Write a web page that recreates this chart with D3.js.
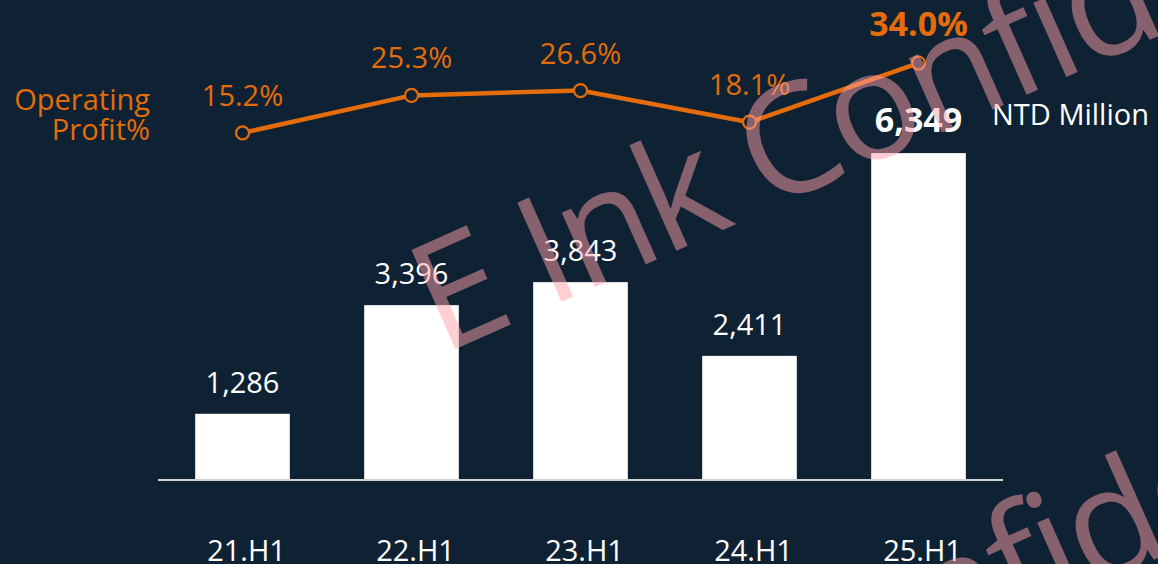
<!DOCTYPE html>
<html>
<head>
<meta charset="utf-8">
<script src="https://cdn.jsdelivr.net/npm/d3@7"></script>
<style>
  html, body { margin: 0; padding: 0; background: #0f2234; }
  svg { display: block; }
  text { font-family: "Open Sans", "Noto Sans", sans-serif; }
</style>
</head>
<body>
<svg id="chart" width="1158" height="564"></svg>
<script>
// data
let periods = ['21.H1', '22.H1', '23.H1', '24.H1', '25.H1'];
let revenue = [1286, 3396, 3843, 2411, 6349];
let opMargin = [15.2, 25.3, 26.6, 18.1, 34.0];
let unitLabel = 'NTD Million';
let lineLabel = ['Operating', 'Profit%'];
let watermark = 'E Ink Confidential';

let svgWidth = 1158, svgHeight = 564;
let orange = '#e46c0a';
let bg = '#0f2234';

let svg = d3.select('#chart');
svg.append('rect').attr('width', svgWidth).attr('height', svgHeight).attr('fill', bg);

let xScale = d3.scaleBand().domain(periods).range([158, 1003])
               .paddingInner(0.44).paddingOuter(0.22);
let yBar = d3.scaleLinear().domain([0, 7400]).range([480, 99]);
let yPct = d3.scaleLinear().domain([0, 40]).range([189.5, 40.7]);
let cx = d => xScale(d) + xScale.bandwidth() / 2;

// bars
svg.append('g').selectAll('rect')
   .data(periods)
   .enter()
   .append('rect')
   .attr('x', d => xScale(d))
   .attr('y', (d, i) => yBar(revenue[i]))
   .attr('width', xScale.bandwidth())
   .attr('height', (d, i) => yBar(0) - yBar(revenue[i]))
   .attr('fill', '#ffffff');

// baseline
svg.append('line')
   .attr('x1', 158).attr('x2', 1003)
   .attr('y1', yBar(0)).attr('y2', yBar(0))
   .attr('stroke', '#d0d0d0').attr('stroke-width', 2);

// bar value labels
svg.append('g').selectAll('text')
   .data(periods)
   .enter()
   .append('text')
   .attr('x', d => cx(d))
   .attr('y', (d, i) => yBar(revenue[i]) - 21)
   .attr('text-anchor', 'middle')
   .attr('fill', '#ffffff')
   .attr('font-size', (d, i) => i == periods.length - 1 ? '34px' : '29px')
   .attr('font-weight', (d, i) => i == periods.length - 1 ? 'bold' : 'normal')
   .text((d, i) => d3.format(',')(revenue[i]));

svg.append('text')
   .attr('x', 992).attr('y', 125)
   .attr('fill', '#ffffff').attr('font-size', '29px')
   .text(unitLabel);

// category labels
svg.append('g').selectAll('text')
   .data(periods)
   .enter()
   .append('text')
   .attr('x', d => cx(d) + 4)
   .attr('y', 561)
   .attr('text-anchor', 'middle')
   .attr('fill', '#ffffff')
   .attr('font-size', '29px')
   .text(d => d);

// operating profit line
let line = d3.line().x((d, i) => cx(periods[i])).y(d => yPct(d));
svg.append('path')
   .datum(opMargin)
   .attr('d', line)
   .attr('fill', 'none')
   .attr('stroke', orange)
   .attr('stroke-width', 4.5);

svg.append('g').selectAll('circle')
   .data(opMargin)
   .enter()
   .append('circle')
   .attr('cx', (d, i) => cx(periods[i]))
   .attr('cy', d => yPct(d))
   .attr('r', 6.5)
   .attr('fill', bg)
   .attr('stroke', orange)
   .attr('stroke-width', 2.2);

svg.append('g').selectAll('text')
   .data(opMargin)
   .enter()
   .append('text')
   .attr('x', (d, i) => cx(periods[i]))
   .attr('y', d => yPct(d) - 27)
   .attr('text-anchor', 'middle')
   .attr('fill', orange)
   .attr('font-size', (d, i) => i == opMargin.length - 1 ? '34px' : '29px')
   .attr('font-weight', (d, i) => i == opMargin.length - 1 ? 'bold' : 'normal')
   .text(d => d.toFixed(1) + '%');

svg.append('g').selectAll('text')
   .data(lineLabel)
   .enter()
   .append('text')
   .attr('x', 150)
   .attr('y', (d, i) => 110 + i * 30)
   .attr('text-anchor', 'end')
   .attr('fill', orange)
   .attr('font-size', '29px')
   .text(d => d);

// watermark on top
let wm = svg.append('g').attr('pointer-events', 'none');
[[442, 355], [446, 875]].forEach(p => {
  wm.append('text')
    .attr('transform', `translate(${p[0]},${p[1]}) rotate(-24)`)
    .attr('font-size', '152px')
    .attr('letter-spacing', '-4px')
    .attr('fill', '#ffa0a8')
    .attr('fill-opacity', 0.5)
    .text(watermark);
});
</script>
</body>
</html>
